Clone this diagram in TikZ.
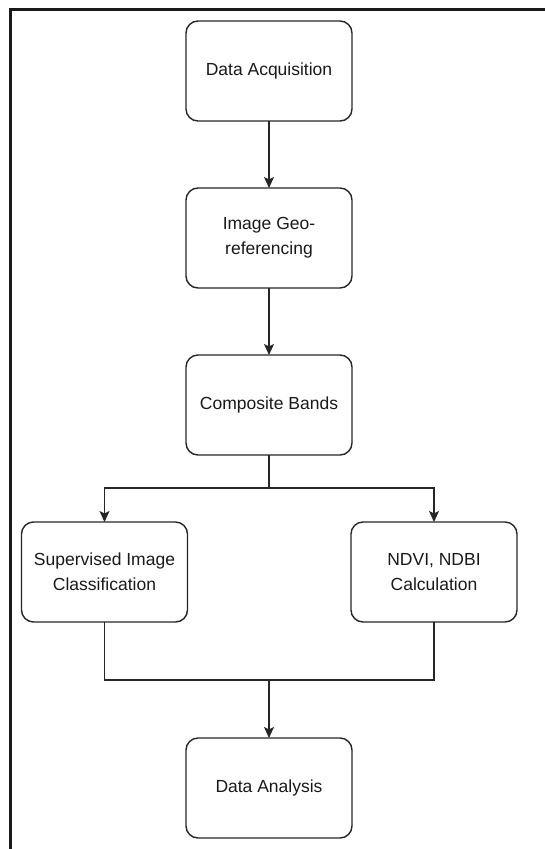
\documentclass[tikz,border=0pt]{standalone}
\usepackage{fontspec}
\setmainfont{Liberation Sans}
\usetikzlibrary{arrows.meta}

\begin{document}
\begin{tikzpicture}[
      x=1pt, y=-1pt,
      step box/.style={draw=black!85, line width=1.4pt, rounded corners=12pt,
        minimum width=166pt, minimum height=100pt, align=center,
        inner sep=0pt, outer sep=0pt,
        font=\fontsize{17.5}{25}\selectfont, text=black!90},
      flow/.style={draw=black!85, line width=1.3pt},
      arrow/.style={flow, -{Stealth[length=11pt, width=10pt, inset=2.5pt]}},
  ]
    \useasboundingbox (0,0) rectangle (545,849);
    % frame
    \draw[line width=3pt, black!90] (10,849) -- (10,9) -- (545,9);

    \node[step box] (acq)  at (269,71)    {Data Acquisition};
    \node[step box] (geo)  at (269,238)   {Image Geo-\\referencing};
    \node[step box] (comp) at (269,405)   {Composite Bands};
    \node[step box] (sup)  at (104.5,572) {Supervised Image\\Classification};
    \node[step box] (ndvi) at (434,572)   {NDVI, NDBI\\Calculation};
    \node[step box] (ana)  at (269,788)   {Data Analysis};

    \coordinate (split) at (269,488);
    \coordinate (join)  at (269,680);

    \draw[arrow] (acq) -- (geo);
    \draw[arrow] (geo) -- (comp);
    \draw[flow] (comp) -- (split);
    \draw[arrow] (split) -| (sup);
    \draw[arrow] (split) -| (ndvi);
    \draw[flow] (sup) |- (join) -| (ndvi);
    \draw[arrow] (join) -- (ana);
  \end{tikzpicture}
\end{document}
